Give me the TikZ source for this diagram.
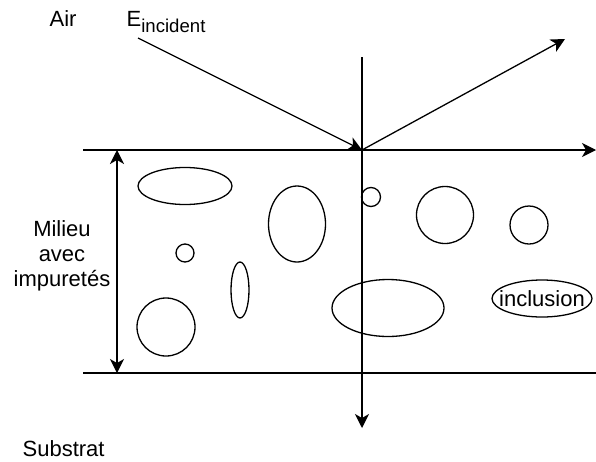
\documentclass[tikz,border=0pt]{standalone}
\usepackage{fontspec}
\setmainfont{Liberation Sans}
\usetikzlibrary{positioning, shapes.geometric, arrows.meta}

\begin{document}
\begin{tikzpicture}[x = 1pt, y = -1pt, line width = 1.3pt,
    every node/.style = { font = \fontsize{22}{25}\selectfont },
    tip/.style = { -{Stealth[length = 14pt, width = 14pt, inset = 4pt]} },
    both/.style = { {Stealth[length = 14pt, width = 14pt, inset = 4pt]}-{Stealth[length = 14pt, width = 14pt, inset = 4pt]} },
    grain/.style = { draw, shape = ellipse, inner sep = 0pt }]
  \useasboundingbox (0,0) rectangle (596,461);

  % interfaces and rays
  \coordinate (topL) at (83,150);
  \coordinate (topR) at (596,150);
  \coordinate (botL) at (83,373);
  \coordinate (botR) at (596,373);
  \coordinate (hit) at (362,150);
  \coordinate (src) at (138,38);
  \coordinate (refl) at (565,39);
  \coordinate (nTop) at (362,57);
  \coordinate (nBot) at (362,428);
  \coordinate (hTop) at (117,150);
  \coordinate (hBot) at (117,373);

  \draw [tip] (topL) -- (topR);
  \draw (botL) -- (botR);
  \draw [tip] (nTop) -- (nBot);
  \draw [tip] (src) -- (hit);
  \draw [tip] (hit) -- (refl);
  \draw [both] (hTop) -- (hBot);

  % impurities
  \node [grain, minimum width = 94, minimum height = 37] (g1) at (185,186) {};
  \node [grain, minimum size = 18, shape = circle] (g2) at (185,253) {};
  \node [grain, minimum size = 58, shape = circle] (g3) at (166,327) {};
  \node [grain, minimum width = 18, minimum height = 56] (g4) at (240,290) {};
  \node [grain, minimum width = 57, minimum height = 76] (g5) at (297,224) {};
  \node [grain, minimum size = 19, shape = circle] (g6) at (371,197) {};
  \node [grain, minimum size = 57, shape = circle] (g7) at (445,215) {};
  \node [grain, minimum size = 38, shape = circle] (g8) at (529,225) {};
  \node [grain, minimum width = 112, minimum height = 57] (g9) at (388,308) {};
  \node [grain, minimum width = 100, minimum height = 37] (incl) at (542,298.5) {};
  \node at (incl) { inclusion };

  % labels
  \node [anchor = base west, inner sep = 0pt] (air) at (49,26) { Air };
  \node [anchor = base west, inner sep = 0pt] (einc) at (126,26)
    { E\raisebox{-6pt}{\fontsize{18.6}{20}\selectfont incident} };
  \node [align = center, inner sep = 0pt] (milieu) at (62,256) { Milieu \\ avec \\ impuretés };
  \node [anchor = base west, inner sep = 0pt] (sub) at (22,456) { Substrat };
\end{tikzpicture}
\end{document}
